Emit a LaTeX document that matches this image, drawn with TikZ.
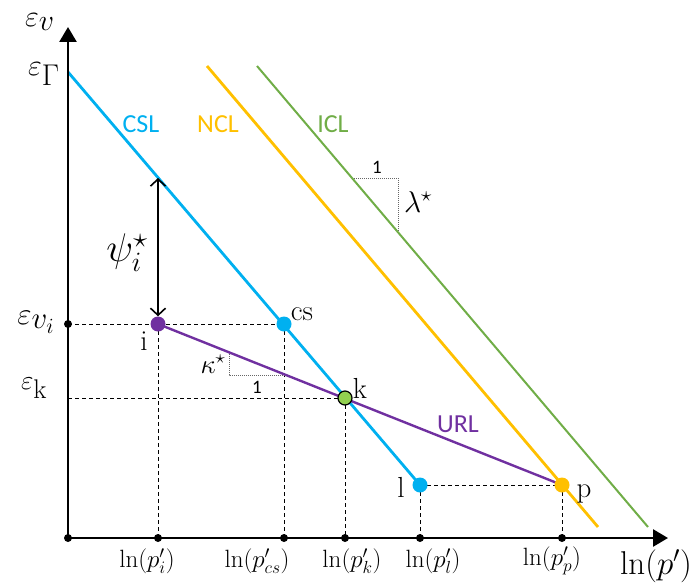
\RequirePackage{fix-cm}
\documentclass[tikz,border=0pt]{standalone}
\usepackage{fontspec}
\newfontfamily\carlitofont{Carlito}
\usetikzlibrary{arrows.meta}
\definecolor{cslc}{RGB}{0,176,240}
\definecolor{nclc}{RGB}{255,192,0}
\definecolor{iclc}{RGB}{112,173,71}
\definecolor{urlc}{RGB}{112,48,160}
\definecolor{kc}{RGB}{146,208,80}
\tikzset{
  axisline/.style={line width=2.6pt, -{Triangle[length=15pt,width=17pt]}},
  guide/.style={line width=0.9pt, dash pattern=on 4pt off 3pt},
  slopetri/.style={line width=1pt, gray!80!black, dash pattern=on 1pt off 1pt},
  bdot/.style={circle, fill=black, inner sep=0pt, minimum size=8pt},
  cdot/.style={circle, fill=#1, inner sep=0pt, minimum size=15pt},
  kdot/.style={circle, fill=kc, draw=black, line width=1.2pt, inner sep=0pt, minimum size=14pt},
  tick/.style={font=\fontsize{25}{28}\selectfont},
  ptlab/.style={font=\fontsize{29}{31}\selectfont, anchor=base},
  sanslab/.style={font=\carlitofont\fontsize{26}{28}\selectfont, anchor=base, text=#1},
  onelab/.style={font=\carlitofont\fontsize{19}{21}\selectfont, anchor=base},
}
\begin{document}
\begin{tikzpicture}[x=1pt,y=-1pt]
\useasboundingbox (0,0) rectangle (695,586);
% coordinates
\coordinate (O) at (68,538);
\coordinate (Ytop) at (68,27);
\coordinate (Xend) at (668,538);
\coordinate (cslA) at (68,72);
\coordinate (nclA) at (207,66);
\coordinate (nclB) at (598,527);
\coordinate (iclA) at (257,66);
\coordinate (iclB) at (648,527);
\coordinate (yk) at (68,398);
\coordinate (psitop) at (158,178);
\coordinate (lamA) at (352,178);
\coordinate (lamB) at (398,232);
\coordinate (kapA) at (229,352);
\coordinate (kapB) at (285,375);
% axis dots (positions)
\coordinate (xi) at (158,538);
\coordinate (xcs) at (284,538);
\coordinate (xk) at (345,538);
\coordinate (xl) at (420,538);
\coordinate (xp) at (562,538);
\coordinate (yi) at (68,324);
% point positions
\coordinate (pi) at (158,324);
\coordinate (pcs) at (284,324);
\coordinate (pk) at (345,398);
\coordinate (pl) at (420,485);
\coordinate (pp) at (562,485);
% dashed guides
\draw[guide] (yi) -- (pcs);
\draw[guide] (pi) -- (xi);
\draw[guide] (pcs) -- (xcs);
\draw[guide] (yk) -- (pk);
\draw[guide] (pk) -- (xk);
\draw[guide] (pl) -- (xl);
\draw[guide] (pl) -- (pp);
\draw[guide] (pp) -- (xp);
% slope triangles
\draw[slopetri] (lamA) -| (lamB);
\draw[slopetri] (kapA) |- (kapB);
% state lines
\draw[cslc, line width=2.8pt] (cslA) -- (pl);
\draw[nclc, line width=2.8pt] (nclA) -- (nclB);
\draw[iclc, line width=2pt] (iclA) -- (iclB);
\draw[urlc, line width=2.4pt] (pi) -- (pp);
% axes
\draw[axisline] (O) -- (Ytop);
\draw[axisline] (O) -- (Xend);
% points
\node[bdot] (o) at (O) {};
\node[bdot] (dyi) at (yi) {};
\node[bdot] (dxi) at (xi) {};
\node[bdot] (dxcs) at (xcs) {};
\node[bdot] (dxk) at (xk) {};
\node[bdot] (dxl) at (xl) {};
\node[bdot] (dxp) at (xp) {};
\node[cdot=urlc] (i) at (pi) {};
\node[cdot=cslc] (cs) at (pcs) {};
\node[kdot] (k) at (pk) {};
\node[cdot=cslc] (l) at (pl) {};
\node[cdot=nclc] (p) at (pp) {};
% psi arrow
\draw[line width=1.6pt, {Straight Barb[length=7pt,width=15pt]}-{Straight Barb[length=7pt,width=15pt]}] (psitop) -- (i);
% labels
\node[font=\fontsize{40}{44}\selectfont] (psilab) at (127,253) {$\psi_i^{\star}$};
\node[font=\fontsize{30}{32}\selectfont] (lamlab) at (418,202) {$\lambda^{\star}$};
\node[font=\fontsize{27}{30}\selectfont] (kaplab) at (213,364) {$\kappa^{\star}$};
\node[onelab] (one1) at (377,173) {1};
\node[onelab] (one2) at (257,393) {1};
\node[sanslab=cslc] (csllab) at (141,132) {CSL};
\node[sanslab=nclc] (ncllab) at (218,132) {NCL};
\node[sanslab=iclc] (icllab) at (333,132) {ICL};
\node[sanslab=urlc] (urllab) at (458,432) {URL};
\node[ptlab] (ilab) at (144,350) {$\mathrm{i}$};
\node[ptlab] (cslab) at (302,320) {$\mathrm{cs}$};
\node[ptlab] (klab) at (360,398) {$\mathrm{k}$};
\node[ptlab] (llab) at (401,497) {$\mathrm{l}$};
\node[ptlab] (plab) at (584,497) {$\mathrm{p}$};
% axis labels
\node[font=\fontsize{30}{32}\selectfont] (ev) at (40,22) {$\varepsilon_{\textstyle v}$};
\node[font=\fontsize{30}{32}\selectfont] (eG) at (44,74) {$\varepsilon_{\textstyle\Gamma}$};
\node[font=\fontsize{31}{33}\selectfont] (evi) at (36,322) {$\varepsilon_{\textstyle v_i}$};
\node[font=\fontsize{27}{30}\selectfont] (ek) at (34,388) {$\varepsilon_{\textstyle\mathrm{k}}$};
\node[tick] (ti) at (147,561) {$\ln(p'_i)$};
\node[tick] (tcs) at (257,561) {$\ln(p'_{cs})$};
\node[tick] (tk) at (352,561) {$\ln(p'_k)$};
\node[tick] (tl) at (433,561) {$\ln(p'_l)$};
\node[tick] (tp) at (552,561) {$\ln(p'_p)$};
\node[font=\fontsize{33}{35}\selectfont] (xlab) at (656,566) {$\ln(p')$};
\end{tikzpicture}
\end{document}
